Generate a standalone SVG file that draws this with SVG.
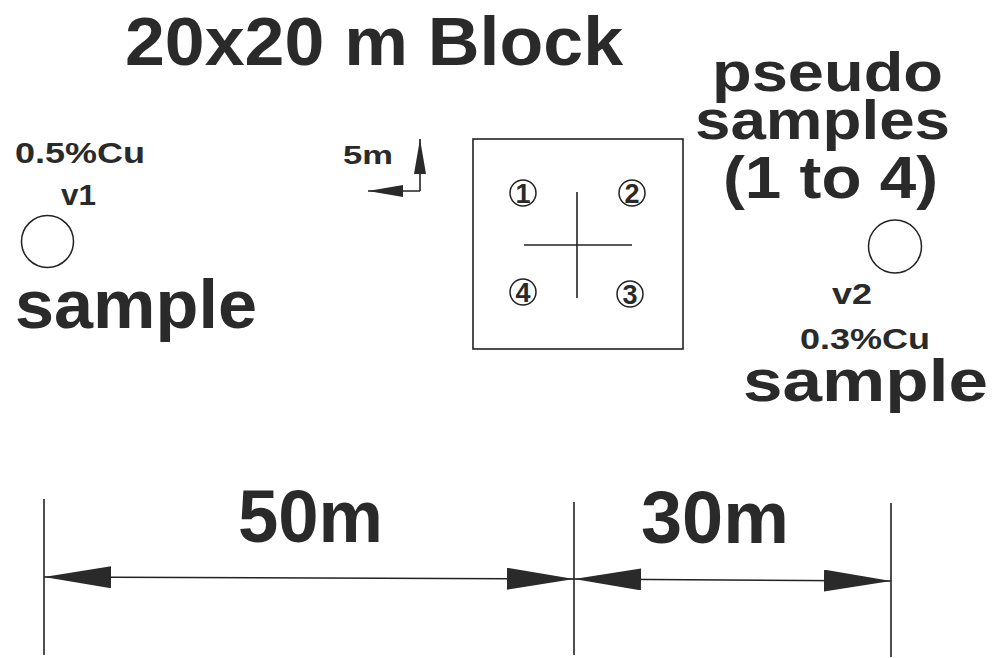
<svg xmlns="http://www.w3.org/2000/svg" width="997" height="658" viewBox="0 0 997 658">
<defs>
<style>
.t{font-family:"Liberation Sans",Arial,sans-serif;font-weight:bold;fill:#2a2a2a}
.ln{stroke:#222;stroke-width:1.6;fill:none}
.c{stroke:#222;stroke-width:1.5;fill:none}
</style>
<marker id="dim" viewBox="0 0 67 22" refX="67" refY="11" markerWidth="67" markerHeight="22" markerUnits="userSpaceOnUse" orient="auto-start-reverse">
<path d="M0,0 L67,11 L0,22 Z" fill="#2a2a2a"/>
</marker>
<marker id="small" viewBox="0 0 35 12" refX="35" refY="6" markerWidth="35" markerHeight="12" markerUnits="userSpaceOnUse" orient="auto">
<path d="M0,0 L35,6 L0,12 Z" fill="#2a2a2a"/>
</marker>
</defs>
<rect width="997" height="658" fill="#fff"/>

<g id="title">
<text class="t" x="125" y="65" font-size="68" textLength="498" lengthAdjust="spacingAndGlyphs">20x20 m Block</text>
</g>

<g id="pseudo-label">
<text class="t" x="712" y="91" font-size="56" textLength="231" lengthAdjust="spacingAndGlyphs">pseudo</text>
<text class="t" x="695" y="139" font-size="56" textLength="255" lengthAdjust="spacingAndGlyphs">samples</text>
<text class="t" x="723" y="198" font-size="60" textLength="215" lengthAdjust="spacingAndGlyphs">(1 to 4)</text>
</g>

<g id="sample-v1">
<text class="t" x="15" y="163" font-size="29" textLength="130" lengthAdjust="spacingAndGlyphs">0.5%Cu</text>
<text class="t" x="61" y="205" font-size="29" textLength="35" lengthAdjust="spacingAndGlyphs">v1</text>
<circle class="c" cx="47.5" cy="241.5" r="26"/>
<text class="t" x="15" y="328" font-size="68" textLength="242" lengthAdjust="spacingAndGlyphs">sample</text>
</g>

<g id="sample-v2">
<circle class="c" cx="895" cy="246.5" r="26.5"/>
<text class="t" x="832" y="304" font-size="29" textLength="40" lengthAdjust="spacingAndGlyphs">v2</text>
<text class="t" x="800" y="349" font-size="29" textLength="130" lengthAdjust="spacingAndGlyphs">0.3%Cu</text>
<text class="t" x="743" y="401" font-size="60" textLength="245" lengthAdjust="spacingAndGlyphs">sample</text>
</g>

<g id="scale-5m">
<text class="t" x="343" y="164" font-size="26" textLength="50" lengthAdjust="spacingAndGlyphs">5m</text>
<path class="ln" d="M420,191 L420,139" marker-end="url(#small)"/>
<path class="ln" d="M420,191 L368,191" marker-end="url(#small)"/>
</g>

<g id="block">
<rect class="ln" x="473" y="139" width="210" height="210"/>
<line class="ln" x1="524" y1="245" x2="632" y2="245"/>
<line class="ln" x1="577" y1="192" x2="577" y2="298"/>
</g>

<g id="ps1">
<circle class="c" cx="523" cy="193" r="13"/>
<text class="t" x="523" y="203" font-size="27" text-anchor="middle">1</text>
</g>
<g id="ps2">
<circle class="c" cx="632" cy="193" r="13"/>
<text class="t" x="632" y="203" font-size="27" text-anchor="middle">2</text>
</g>
<g id="ps3">
<circle class="c" cx="630" cy="294" r="13"/>
<text class="t" x="630" y="304" font-size="27" text-anchor="middle">3</text>
</g>
<g id="ps4">
<circle class="c" cx="523" cy="292" r="13"/>
<text class="t" x="523" y="302" font-size="27" text-anchor="middle">4</text>
</g>

<g id="connectors">
<line class="ln" x1="44" y1="499" x2="44" y2="655"/>
<line class="ln" x1="574" y1="502" x2="574" y2="655"/>
<line class="ln" x1="891" y1="503" x2="891" y2="657"/>
<path class="ln" d="M44,577 L574,579" marker-start="url(#dim)" marker-end="url(#dim)"/>
<path class="ln" d="M574,579 L891,581" marker-start="url(#dim)" marker-end="url(#dim)"/>
</g>

<g id="dim-labels">
<text class="t" x="238" y="542" font-size="74" textLength="145" lengthAdjust="spacingAndGlyphs">50m</text>
<text class="t" x="641" y="543" font-size="74" textLength="148" lengthAdjust="spacingAndGlyphs">30m</text>
</g>
</svg>
